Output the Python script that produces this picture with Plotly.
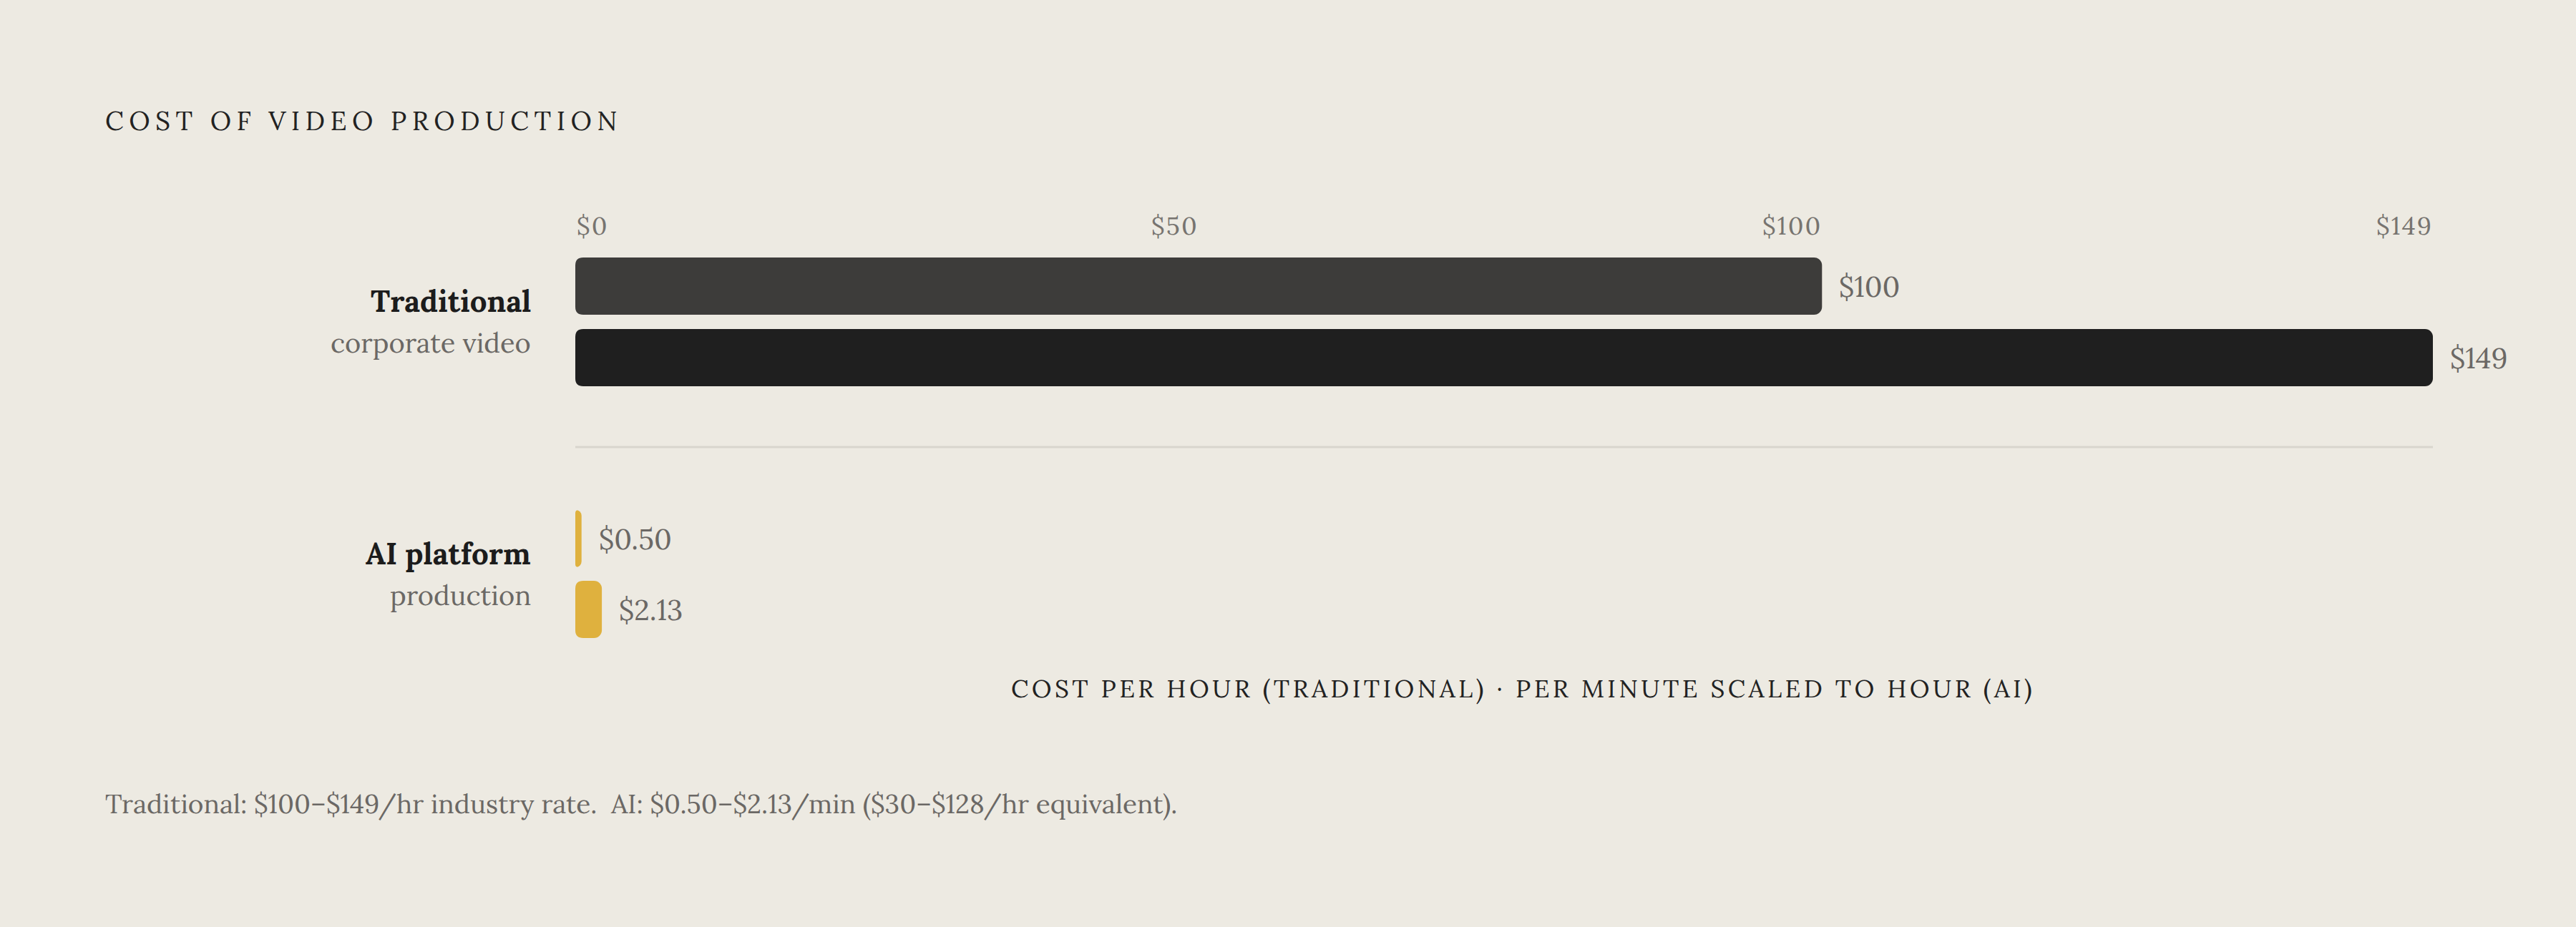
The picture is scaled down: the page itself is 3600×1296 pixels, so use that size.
#!/usr/bin/env python
"""
Cost of video production - traditional vs AI platform
"""
import plotly.graph_objects as go

# data
groups = ["Traditional", "AI platform"]
group_notes = ["corporate video", "production"]
costs = [100, 149, 0.50, 2.13]
cost_text = ["$100", "$149", "$0.50", "$2.13"]
bar_group = [0, 0, 1, 1]
tick_vals = [0, 50, 100, 149]
tick_text = ["$0", "$50", "$100", "$149"]

W, H = 3600, 1296
BG = "#EDEAE2"
FONT = "Lora, 'Liberation Serif', serif"
bar_colors = ["#3D3C3A", "#1F1F1F", "#DFB13E", "#DFB13E"]

# layout: y in units of 100px, x scaled so 0 -> 804px, max -> 3400px
x0_px, x1_px = 804, 3400
u = max(costs) / (x1_px - x0_px)   # data units per pixel
x_range = [-x0_px * u, (W - x0_px) * u]
bar_y = [4.00, 5.00, 7.53, 8.52]
BAR_W = 0.80
RADIUS = 11  # px


def spaced(s, sep="\u2009"):
    # fake letter-spacing
    return sep.join(s)


def px(x):
    return x / W


fig = go.Figure(go.Bar(
    x=costs, y=bar_y, orientation="h", width=BAR_W,
    marker=dict(color=bar_colors, line=dict(width=0)), hoverinfo="skip",
))

# plotly only rounds the outer end; mask the two corners at the base
shapes = []
for c, y in zip(costs, bar_y):
    r = min(RADIUS, c / u / 2)
    rx, ry = r * u, r / 100
    top, bot = y - BAR_W / 2, y + BAR_W / 2
    for yy, sgn in ((top, 1), (bot, -1)):
        shapes.append(dict(
            type="path", xref="x", yref="y", layer="above",
            path=f"M 0,{yy} L {rx},{yy} Q 0,{yy} 0,{yy + sgn * ry} Z",
            fillcolor=BG, line=dict(width=0),
        ))
shapes.append(dict(type="line", xref="x", yref="y", x0=0, x1=max(costs), y0=6.25, y1=6.25,
                   line=dict(color="#D9D5CD", width=3)))

ann = []
# title
ann.append(dict(x=px(145), xref="paper", y=1.68, xanchor="left", yanchor="middle",
                text=spaced("COST OF VIDEO PRODUCTION"),
                font=dict(size=37, color="#222222")))
# tick labels on top
for v, t in zip(tick_vals, tick_text):
    ann.append(dict(x=v, y=3.15, xanchor="left" if v == 0 else "right", yanchor="middle",
                    text=spaced(t, "\u200a"), font=dict(size=35, color="#777470")))
# value labels
for c, t, y in zip(costs, cost_text, bar_y):
    ann.append(dict(x=c, y=y, xanchor="left", yanchor="middle", xshift=22,
                    text=t, font=dict(size=40, color="#6B6865")))
# group labels
for i, (g, n) in enumerate(zip(groups, group_notes)):
    ys = [y for y, b in zip(bar_y, bar_group) if b == i]
    mid = sum(ys) / len(ys)
    ann.append(dict(x=px(744), xref="paper", y=mid - 0.29, xanchor="right", yanchor="middle",
                    text="<b>" + g + "</b>", font=dict(size=42, color="#1C1C1C")))
    ann.append(dict(x=px(744), xref="paper", y=mid + 0.29, xanchor="right", yanchor="middle",
                    text=n, font=dict(size=38, color="#6B6865")))
# axis title
ann.append(dict(x=max(costs) / 2, y=9.62, xanchor="center", yanchor="middle", xshift=24,
                text=spaced("COST PER HOUR (TRADITIONAL) · PER MINUTE SCALED TO HOUR (AI)", "\u200a\u200a"),
                font=dict(size=35, color="#222222")))
# footnote
ann.append(dict(x=px(145), xref="paper", y=11.23, xanchor="left", yanchor="middle",
                text="Traditional: $100–$149/hr industry rate.&nbsp; AI: $0.50–$2.13/min ($30–$128/hr equivalent).",
                font=dict(size=37, color="#6B6865")))

for a in ann:
    a.setdefault("xref", "x")
    a.setdefault("yref", "y")
    a["showarrow"] = False

fig.update_layout(
    width=W, height=H,
    margin=dict(l=0, r=0, t=0, b=0),
    paper_bgcolor=BG, plot_bgcolor=BG,
    font=dict(family=FONT),
    barcornerradius=RADIUS,
    showlegend=False,
    annotations=ann,
    shapes=shapes,
)
fig.update_xaxes(range=x_range, visible=False, fixedrange=True)
fig.update_yaxes(range=[H / 100, 0], visible=False, fixedrange=True)

fig.write_html("out.html", config={"displayModeBar": False},
               post_script="document.body.style.margin='0';")
